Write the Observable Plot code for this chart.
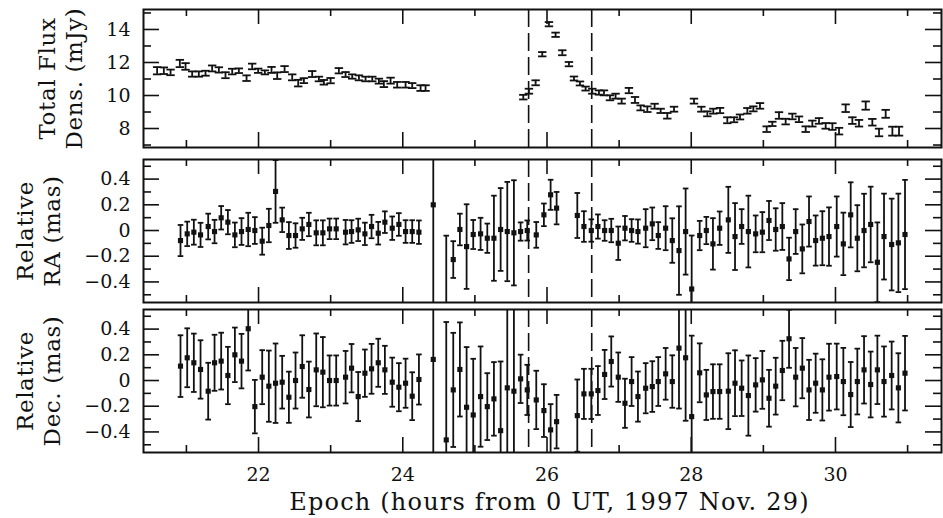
<!DOCTYPE html>
<html>
<head>
<meta charset="utf-8">
<script src="https://cdn.jsdelivr.net/npm/d3@7"></script>
<script src="https://cdn.jsdelivr.net/npm/@observablehq/plot@0.6"></script>
<style>
  body { margin: 0; background: #fff; }
  #chart { position: relative; width: 943px; height: 518px; background: #fff; }
  #chart > div { position: absolute; left: 0; }
  svg { display: block; }
  svg g[font-size="24"] { letter-spacing: 1.2px; }
  svg g[font-size="23"] { letter-spacing: 0.6px; }
</style>
</head>
<body>
<div id="chart"><div id="p1" style="top:0"></div><div id="p2" style="top:150px"></div><div id="p3" style="top:305px"></div></div>
<script>
// ---------------- DATA ----------------
const xDomain = [20.405, 31.47];
const xMajorTicks = [22, 24, 26, 28, 30];
const xTickLabels = ["22", "24", "26", "28", "30"];
const xMinorTicks = [21, 23, 25, 27, 29, 31];
const xLabel = "Epoch (hours from 0 UT, 1997 Nov. 29)";
const dashedEpochs = [25.745, 26.62];

const fluxLabel = ["Total Flux", "Dens. (mJy)"];
const fluxDomain = [6.85, 15.21];
const fluxMajorTicks = [8, 10, 12, 14];
const fluxTickLabels = ["8", "10", "12", "14"];
const fluxMinorTicks = [7, 9, 11, 13, 15];

const fluxTime = [20.594, 20.687, 20.780, 20.909, 20.988, 21.080, 21.172, 21.265, 21.357, 21.450,
  21.542, 21.635, 21.727, 21.834, 21.912, 21.995, 22.088, 22.180, 22.259, 22.361,
  22.467, 22.550, 22.629, 22.744, 22.837, 22.906, 22.999, 23.114, 23.207, 23.299,
  23.392, 23.484, 23.577, 23.669, 23.738, 23.831, 23.923, 24.039, 24.131, 24.247, 24.316,
  25.671, 25.749, 25.842, 25.934, 26.027, 26.119, 26.212, 26.304, 26.374, 26.457,
  26.535, 26.628, 26.720, 26.790, 26.873, 26.951, 27.035, 27.136, 27.220, 27.298,
  27.391, 27.492, 27.576, 27.668, 27.761, 28.038, 28.140, 28.223, 28.306, 28.399,
  28.500, 28.593, 28.676, 28.778, 28.861, 28.953, 29.046, 29.124, 29.217, 29.309,
  29.402, 29.494, 29.587, 29.679, 29.772, 29.864, 29.957, 30.049, 30.141, 30.234,
  30.326, 30.419, 30.511, 30.604, 30.696, 30.789, 30.881];
const fluxValue = [11.5, 11.5, 11.4, 11.94, 11.76, 11.3, 11.3, 11.35, 11.64, 11.55,
  11.23, 11.45, 11.5, 11.05, 11.76, 11.5, 11.4, 11.55, 11.2, 11.6,
  11.1, 10.75, 10.9, 11.3, 11.0, 10.8, 10.9, 11.5, 11.27, 11.15,
  11.07, 11.0, 11.0, 10.87, 10.69, 10.9, 10.65, 10.65, 10.6, 10.45, 10.45,
  9.9, 10.26, 10.77, 12.5, 14.32, 13.68, 12.59, 11.9, 11.03, 10.73,
  10.42, 10.26, 10.18, 10.16, 9.86, 9.96, 9.66, 10.3, 9.73, 9.25,
  9.17, 9.35, 9.07, 8.77, 9.17, 9.66, 9.17, 8.89, 9.05, 9.09,
  8.5, 8.53, 8.7, 9.07, 9.19, 9.37, 7.96, 8.28, 8.79, 8.42,
  8.73, 8.56, 7.96, 8.3, 8.46, 8.16, 8.12, 7.84, 9.23, 8.48,
  8.32, 9.39, 8.38, 7.76, 8.89, 7.84, 7.84];
const fluxError = [0.22, 0.2, 0.17, 0.22, 0.2, 0.16, 0.16, 0.15, 0.18, 0.16,
  0.18, 0.17, 0.14, 0.17, 0.17, 0.13, 0.12, 0.18, 0.2, 0.18,
  0.18, 0.2, 0.15, 0.18, 0.14, 0.14, 0.16, 0.16, 0.15, 0.13,
  0.15, 0.14, 0.14, 0.15, 0.18, 0.18, 0.17, 0.17, 0.15, 0.17, 0.17,
  0.14, 0.15, 0.15, 0.13, 0.13, 0.13, 0.15, 0.13, 0.12, 0.12,
  0.12, 0.15, 0.13, 0.15, 0.15, 0.15, 0.15, 0.16, 0.18, 0.15,
  0.17, 0.15, 0.13, 0.17, 0.15, 0.15, 0.15, 0.15, 0.15, 0.16,
  0.18, 0.15, 0.15, 0.17, 0.15, 0.17, 0.17, 0.13, 0.2, 0.17,
  0.17, 0.17, 0.17, 0.18, 0.17, 0.17, 0.2, 0.2, 0.23, 0.2,
  0.2, 0.25, 0.2, 0.23, 0.24, 0.27, 0.27];

const posDomain = [-0.56, 0.5525];
const posMajorTicks = [-0.4, -0.2, 0, 0.2, 0.4];
const posTickLabels = ["\u22120.4", "\u22120.2", "0", "0.2", "0.4"];
const posMinorTicks = [-0.5, -0.3, -0.1, 0.1, 0.3, 0.5];
const raLabel = ["Relative", "RA (mas)"];
const decLabel = ["Relative", "Dec. (mas)"];

const posTime = [20.918, 21.011, 21.103, 21.196, 21.302, 21.390, 21.482, 21.575, 21.672, 21.764,
  21.857, 21.949, 22.051, 22.143, 22.236, 22.328, 22.421, 22.513, 22.606, 22.698,
  22.800, 22.892, 22.985, 23.077, 23.207, 23.290, 23.382, 23.475, 23.567, 23.660,
  23.752, 23.854, 23.946, 24.039, 24.131, 24.224,
  24.423, 24.603, 24.700, 24.792, 24.885, 24.977, 25.079, 25.172, 25.264, 25.357,
  25.449, 25.541, 25.634, 25.726, 25.851,
  25.957, 26.050, 26.133, 26.420, 26.512, 26.614, 26.706, 26.799, 26.891, 26.988,
  27.081, 27.173, 27.261, 27.368, 27.460, 27.543, 27.645, 27.737, 27.830, 27.922,
  28.006, 28.117, 28.209, 28.301, 28.394, 28.514, 28.607, 28.699, 28.792, 28.893,
  28.986, 29.078, 29.171, 29.263, 29.356, 29.448, 29.540, 29.633, 29.725, 29.818,
  29.910, 30.017, 30.109, 30.211, 30.303, 30.396, 30.488, 30.581, 30.673, 30.779,
  30.872, 30.964];
const raValue = [-0.078, -0.026, -0.013, -0.034, 0.031, -0.008, 0.099, 0.065, -0.034, -0.008,
  0.008, 0, -0.083, 0.039, 0.304, 0.083, -0.039, -0.039, 0.013, 0.047,
  -0.018, -0.018, 0.013, 0.013, -0.013, -0.008, 0.005, -0.026, 0.031, -0.021,
  0.065, 0.018, 0.047, -0.008, -0.008, -0.013,
  0.2, -0.65, -0.226, 0.008, -0.125, -0.031, -0.026, -0.06, -0.06, 0.008,
  -0.008, -0.018, -0.008, 0, -0.034,
  0.122, 0.278, 0.174, 0.117, 0.031, 0, 0.031, 0, 0, -0.099,
  0.018, 0, -0.008, 0.018, 0.052, -0.039, 0.018, -0.078, -0.156, -0.008,
  -0.455, -0.039, 0, -0.104, 0.018, 0.083, -0.047, 0.031, -0.008, -0.026,
  -0.013, 0.078, 0.008, 0.031, -0.221, -0.008, -0.143, 0.07, -0.078, -0.06,
  -0.047, 0.031, -0.104, 0.122, -0.06, 0, 0.047, -0.247, -0.047, -0.109,
  -0.096, -0.031];
const raError = [0.121, 0.095, 0.097, 0.094, 0.1, 0.091, 0.091, 0.094, 0.096, 0.104,
  0.13, 0.104, 0.105, 0.13, 0.244, 0.095, 0.104, 0.095, 0.086, 0.091,
  0.097, 0.097, 0.08, 0.08, 0.095, 0.088, 0.087, 0.087, 0.091, 0.088,
  0.084, 0.091, 0.088, 0.088, 0.088, 0.091,
  0.9, 0.61, 0.143, 0.123, 0.329, 0.113, 0.125, 0.114, 0.331, 0.322,
  0.386, 0.409, 0.071, 0.078, 0.1,
  0.088, 0.117, 0.126, 0.175, 0.119, 0.087, 0.094, 0.08, 0.091, 0.13,
  0.095, 0.088, 0.094, 0.148, 0.127, 0.104, 0.171, 0.173, 0.344, 0.335,
  0.416, 0.114, 0.106, 0.2, 0.13, 0.257, 0.26, 0.135, 0.279, 0.143,
  0.156, 0.152, 0.165, 0.182, 0.165, 0.174, 0.19, 0.195, 0.195, 0.21,
  0.227, 0.234, 0.243, 0.253, 0.257, 0.286, 0.294, 0.31, 0.334, 0.357,
  0.383, 0.425];
const decValue = [0.112, 0.177, 0.138, 0.086, -0.083, 0.138, 0.151, 0.039, 0.2, 0.151,
  0.403, -0.203, 0.026, -0.044, -0.021, -0.013, -0.13, 0, 0.109, -0.07,
  0.083, 0.065, 0, 0, 0.026, 0.096, -0.125, 0.057, 0.091, 0.138,
  0.083, -0.013, -0.052, -0.021, -0.122, 0.008,
  0.164, -0.462, -0.073, 0.086, -0.208, -0.268, -0.125, -0.203, -0.143, -0.39,
  -0.057, -0.083, 0.013, -0.073, -0.151,
  -0.234, -0.384, -0.32, -0.273, -0.104, -0.104, -0.078, 0.047, 0.148, 0.026,
  -0.177, -0.008, -0.125, -0.06, -0.047, -0.008, 0.052, -0.008, 0.252, 0.177,
  -0.281, 0.06, -0.112, -0.086, -0.086, -0.083, -0.021, -0.06, -0.117, -0.034,
  0.005, -0.138, -0.044, 0.078, 0.325, 0.026, 0.096, -0.073, -0.021, -0.073,
  0.026, 0.031, -0.008, -0.109, -0.008, 0.083, -0.031, 0.083, -0.008, 0.039,
  -0.057, 0.057];
const decError = [0.24, 0.229, 0.227, 0.227, 0.221, 0.218, 0.221, 0.223, 0.212, 0.212,
  0.325, 0.208, 0.21, 0.277, 0.309, 0.205, 0.199, 0.218, 0.243, 0.217,
  0.283, 0.273, 0.195, 0.195, 0.204, 0.188, 0.191, 0.184, 0.194, 0.187,
  0.187, 0.191, 0.187, 0.191, 0.186, 0.195,
  0.9, 0.917, 0.444, 0.366, 0.468, 0.437, 0.39, 0.26, 0.286, 0.538,
  0.7, 0.7, 0.188, 0.195, 0.227,
  0.205, 0.2, 0.208, 0.281, 0.195, 0.195, 0.19, 0.191, 0.195, 0.192,
  0.191, 0.19, 0.195, 0.195, 0.197, 0.19, 0.201, 0.204, 0.47, 0.49,
  0.63, 0.229, 0.195, 0.212, 0.212, 0.295, 0.256, 0.216, 0.312, 0.208,
  0.225, 0.221, 0.221, 0.231, 0.226, 0.227, 0.234, 0.234, 0.23, 0.238,
  0.26, 0.256, 0.262, 0.253, 0.256, 0.262, 0.256, 0.266, 0.273, 0.264,
  0.269, 0.29];

// ---------------- CHART ----------------
const W = 943, ML = 143, MR = 2;
const INK = "#111";
const FONT = "'DejaVu Serif', 'Liberation Serif', serif";
const BAR_W = 1.8;

const rows = (t, v, e) => t.map((d, i) => ({t: d, v: v[i], e: e[i]}));
const cap = w => ({draw(ctx) { ctx.moveTo(-w, 0); ctx.lineTo(w, 0); }});

function panel({height, marginTop, marginBottom, yDomain, yMajor, yMinor, yTickLabels,
                label, labelX, data, capWidth, markers, bottomAxis}) {
  const innerH = height - marginTop - marginBottom;
  const innerW = W - ML - MR;
  const marks = [
    Plot.ruleX(dashedEpochs, {x: d => d, stroke: INK, strokeWidth: 1.6, strokeDasharray: "18,6"}),
    Plot.ruleX(data, {x: "t", y1: d => d.v - d.e, y2: d => d.v + d.e, stroke: INK, strokeWidth: BAR_W, clip: true}),
    Plot.dot(data, {x: "t", y: d => d.v + d.e, symbol: cap(capWidth), fill: "none", stroke: INK, strokeWidth: BAR_W, clip: true}),
    Plot.dot(data, {x: "t", y: d => d.v - d.e, symbol: cap(capWidth), fill: "none", stroke: INK, strokeWidth: BAR_W, clip: true})
  ];
  if (markers) marks.push(Plot.dot(data, {x: "t", y: "v", symbol: "square", r: 2.9, fill: INK, stroke: null, clip: true}));
  marks.push(
    // ticks on all four sides (pointing inward)
    Plot.tickX(xMajorTicks, {x: d => d, insetBottom: innerH - 15, stroke: INK, strokeWidth: 1.6}),
    Plot.tickX(xMajorTicks, {x: d => d, insetTop: innerH - 15, stroke: INK, strokeWidth: 1.6}),
    Plot.tickX(xMinorTicks, {x: d => d, insetBottom: innerH - 7, stroke: INK, strokeWidth: 1.6}),
    Plot.tickX(xMinorTicks, {x: d => d, insetTop: innerH - 7, stroke: INK, strokeWidth: 1.6}),
    Plot.tickY(yMajor, {y: d => d, insetRight: innerW - 16, stroke: INK, strokeWidth: 1.6}),
    Plot.tickY(yMajor, {y: d => d, insetLeft: innerW - 16, stroke: INK, strokeWidth: 1.6}),
    Plot.tickY(yMinor, {y: d => d, insetRight: innerW - 8, stroke: INK, strokeWidth: 1.6}),
    Plot.tickY(yMinor, {y: d => d, insetLeft: innerW - 8, stroke: INK, strokeWidth: 1.6}),
    Plot.frame({stroke: INK, strokeWidth: 2}),
    // y tick labels
    Plot.text(yMajor, {y: d => d, text: (d, i) => yTickLabels[i], frameAnchor: "left", dx: -13,
      textAnchor: "end", lineAnchor: "middle", fontSize: 19, fill: INK}),
    // two-line rotated y label
    Plot.text([label[0]], {text: d => d, frameAnchor: "left", dx: labelX[0] - ML, rotate: -90,
      textAnchor: "middle", lineAnchor: "middle", fontSize: 23, fill: INK}),
    Plot.text([label[1]], {text: d => d, frameAnchor: "left", dx: labelX[1] - ML, rotate: -90,
      textAnchor: "middle", lineAnchor: "middle", fontSize: 23, fill: INK})
  );
  if (bottomAxis) {
    marks.push(
      Plot.text(xMajorTicks, {x: d => d, text: (d, i) => xTickLabels[i], frameAnchor: "bottom", dy: 22,
        lineAnchor: "middle", fontSize: 19, fill: INK}),
      Plot.text([xLabel], {text: d => d, frameAnchor: "bottom", dx: 7, dy: 50,
        lineAnchor: "middle", fontSize: 24, fill: INK})
    );
  }
  return Plot.plot({
    width: W, height, marginLeft: ML, marginRight: MR, marginTop, marginBottom,
    x: {domain: xDomain, axis: null},
    y: {domain: yDomain, axis: null},
    style: {fontFamily: FONT, background: "#fff", color: INK, overflow: "visible"},
    marks
  });
}

document.getElementById("p1").append(panel({
  height: 150, marginTop: 9, marginBottom: 3,
  yDomain: fluxDomain, yMajor: fluxMajorTicks, yMinor: fluxMinorTicks, yTickLabels: fluxTickLabels,
  label: fluxLabel, labelX: [47, 74],
  data: rows(fluxTime, fluxValue, fluxError), capWidth: 4.2, markers: false, bottomAxis: false
}));
document.getElementById("p2").append(panel({
  height: 155, marginTop: 9, marginBottom: 3,
  yDomain: posDomain, yMajor: posMajorTicks, yMinor: posMinorTicks, yTickLabels: posTickLabels,
  label: raLabel, labelX: [25, 52],
  data: rows(posTime, raValue, raError), capWidth: 2.8, markers: true, bottomAxis: false
}));
document.getElementById("p3").append(panel({
  height: 213, marginTop: 4, marginBottom: 66,
  yDomain: posDomain, yMajor: posMajorTicks, yMinor: posMinorTicks, yTickLabels: posTickLabels,
  label: decLabel, labelX: [25, 52],
  data: rows(posTime, decValue, decError), capWidth: 2.8, markers: true, bottomAxis: true
}));
</script>
</body>
</html>
